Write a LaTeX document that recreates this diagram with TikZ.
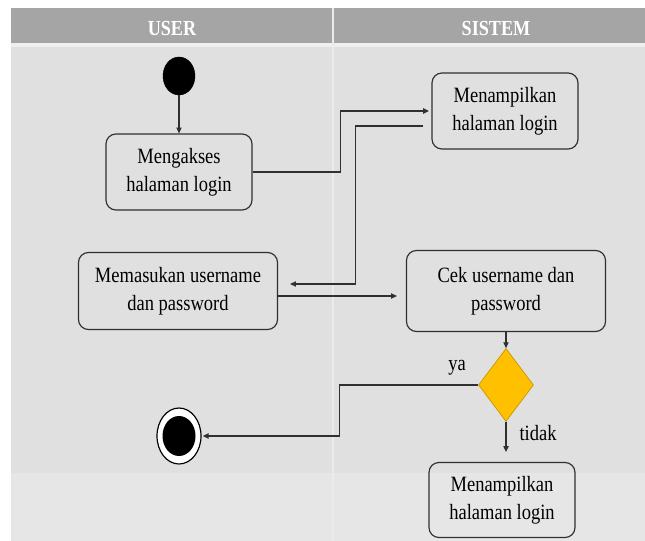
\documentclass[tikz,border=0pt]{standalone}
\usepackage{fontspec}
\setmainfont{Liberation Serif}
\usepackage{graphicx}
\usepackage{tikz}
\usetikzlibrary{shapes,arrows,positioning,calc,arrows.meta}
\definecolor{headgray}{HTML}{A5A5A5}
\definecolor{lanegray}{HTML}{E0E0E0}
\definecolor{lowgray}{HTML}{E6E6E6}
\definecolor{decgold}{HTML}{FFC000}
\definecolor{decedge}{HTML}{C99700}
\definecolor{linegray}{HTML}{303030}
% taller lettering, as in the stretched original
\newcommand{\tall}[1]{\scalebox{1}[1.18]{\begin{tabular}{@{}c@{}}#1\end{tabular}}}

\begin{document}
\begin{tikzpicture}[x=0.03cm,y=-0.03cm,
    act/.style={draw=linegray,line width=1pt,rounded corners=8.5pt,align=center,
        font=\fontsize{15.8}{20}\selectfont,inner sep=0pt},
    flow/.style={draw=linegray,line width=1pt,-{Triangle[length=5pt,width=4.5pt]}},
    lane/.style={font=\fontsize{15.5}{18}\selectfont\bfseries,text=white},
    lbl/.style={font=\fontsize{15.8}{18}\selectfont},
    startst/.style={ellipse,draw,fill=black,minimum width=0.96cm,minimum height=1.14cm,inner sep=0pt},
    endout/.style={ellipse,draw,fill=white,line width=1pt,minimum width=1.32cm,minimum height=1.68cm,inner sep=0pt},
    endin/.style={ellipse,fill=black,minimum width=0.99cm,minimum height=1.2cm,inner sep=0pt},
    dec/.style={diamond,draw=decedge,fill=decgold,line width=0.6pt,minimum width=1.65cm,minimum height=2.19cm,inner sep=0pt}]
    \useasboundingbox (0,0) rectangle (645,541);

    % Swimlanes
    \fill[white] (0,0) rectangle (645,541);
    \fill[headgray] (11,8) rectangle (645,43);
    \fill[lanegray!50] (11,43) rectangle (645,47);
    \fill[lanegray] (11,47) rectangle (645,473);
    \fill[lowgray] (11,473) rectangle (645,541);
    \draw[white!92!black,line width=1.5pt] (333,8) -- (333,541);
    \node[lane] (user) at (172,31) {\tall{USER}};
    \node[lane] (sistem) at (496,31) {\tall{SISTEM}};

    % Activities
    \node[startst] (mulai) at (179,76) {};
    \node[act,minimum width=4.38cm,minimum height=2.28cm] (akses) at (179,172) {\tall{Mengakses\\halaman login}};
    \node[act,minimum width=4.38cm,minimum height=2.28cm] (tampil) at (505,111) {\tall{Menampilkan\\halaman login}};
    \node[act,minimum width=5.97cm,minimum height=2.31cm] (masuk) at (178,291) {\tall{Memasukan username\\dan password}};
    \node[act,minimum width=5.97cm,minimum height=2.43cm] (cek) at (506,291) {\tall{Cek username dan\\password}};
    \node[dec] (pilih) at (506,385) {};
    \node[endout] (selesai) at (179,436) {};
    \node[endin] (selesaiin) at (selesai) {};
    \node[act,minimum width=4.38cm,minimum height=2.25cm] (tampil2) at (502,500) {\tall{Menampilkan\\halaman login}};

    % Flows
    \draw[flow] (mulai) -- (akses);
    \draw[flow] (akses.east) -- ++(88,0) |- ([xshift=-2pt]tampil.west);
    \draw[flow] ($(tampil.west)+(-8,15)$) -- ++(-68,0) |- ($(masuk.east)+(12,-7)$);
    \draw[flow] ($(masuk.east)+(0,5)$) -- ($(cek.west)+(-9,5)$);
    \draw[flow] (cek) -- (pilih);
    \draw[flow,shorten >=8.5pt] (pilih.south) -- (pilih.south |- tampil2.north);
    \draw[flow,shorten >=1pt] (pilih.west) -- ++(-139,0) |- (selesai.east);

    % Guards
    \node[lbl] (ya) at ($(pilih.west)+(-21,-19)$) {\tall{ya}};
    \node[lbl] (tidak) at ($(pilih.south)+(32,14)$) {\tall{tidak}};
\end{tikzpicture}
\end{document}
